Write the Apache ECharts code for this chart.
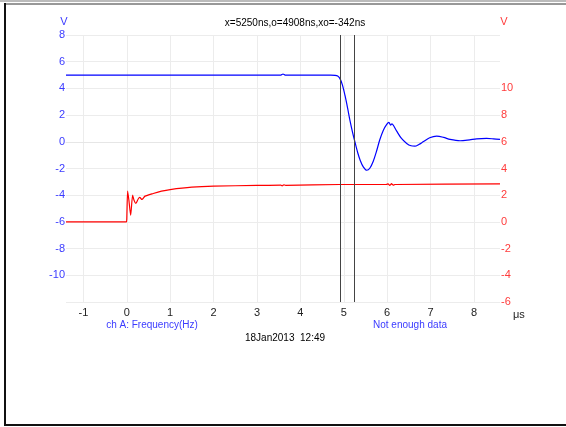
<!DOCTYPE html>
<html>
<head>
<meta charset="utf-8">
<script src="https://cdn.jsdelivr.net/npm/echarts@6/dist/echarts.min.js"></script>
<style>html,body{margin:0;padding:0;background:#fff}#c{width:566px;height:427px}</style>
</head>
<body>
<div id="c"></div>
<script>
// x ticks (μs)
const xTicks = [-1, 0, 1, 2, 3, 4, 5, 6, 7, 8];
// blue channel, left axis (V): [time μs, volts]
const blueData = [[-1.4,5.0],[3.55,5.0],[3.6,5.08],[3.65,5.0],[4.7,5.0],[4.8,4.98],[4.86,4.92],[4.91,4.75],[4.97,4.25],[5.03,3.45],[5.09,2.5],[5.14,1.65],[5.2,0.75],[5.26,-0.05],[5.32,-0.8],[5.38,-1.4],[5.45,-1.88],[5.53,-2.13],[5.6,-1.98],[5.68,-1.45],[5.76,-0.65],[5.83,0.15],[5.91,0.85],[5.99,1.3],[6.04,1.45],[6.08,1.25],[6.11,1.35],[6.15,1.2],[6.22,0.8],[6.33,0.25],[6.45,-0.12],[6.55,-0.3],[6.64,-0.33],[6.73,-0.2],[6.83,0.0],[6.98,0.3],[7.14,0.42],[7.3,0.33],[7.45,0.18],[7.68,0.08],[7.9,0.15],[8.06,0.22],[8.29,0.25],[8.45,0.22],[8.6,0.18]];
// red channel, right axis (V)
const redData = [[-1.4,0],[-0.01,0],[0.0,0.2],[0.02,2.3],[0.05,1.6],[0.09,0.5],[0.135,2.0],[0.17,1.6],[0.21,1.38],[0.26,1.7],[0.30,1.83],[0.35,1.68],[0.42,1.93],[0.61,2.13],[0.8,2.3],[1.0,2.42],[1.5,2.6],[2.0,2.68],[3.0,2.73],[3.55,2.75],[3.58,2.7],[3.62,2.78],[3.66,2.74],[4.9,2.8],[5.98,2.8],[6.02,2.85],[6.06,2.74],[6.1,2.86],[6.14,2.75],[6.18,2.8],[8.6,2.85]];
// cursor positions (μs)
const cursorX = [4.908, 5.25];
// texts
const titleText = 'x=5250ns,o=4908ns,xo=-342ns';
const chanText = 'ch A: Frequency(Hz)';
const statusText = 'Not enough data';
const dateText = '18Jan2013  12:49';
const xUnit = 'μs';
const leftUnit = 'V';
const rightUnit = 'V';

const FONT = 'Liberation Sans, Arial, sans-serif';
const BLUE_T = '#3b3bff';
const RED_T = '#ff3b3b';

const chart = echarts.init(document.getElementById('c'), null, {renderer: 'canvas'});
chart.setOption({
  animation: false,
  backgroundColor: '#fff',
  grid: {left: 66, right: 66, top: 35, bottom: 125, containLabel: false},
  title: {
    text: titleText, left: 290, top: 13, textAlign: 'center',
    textStyle: {fontFamily: FONT, fontSize: 10, fontWeight: 'normal', color: '#000'}
  },
  xAxis: {
    type: 'value', min: -1.4, max: 8.6,
    axisLine: {show: true, lineStyle: {color: '#e6e6e6', width: 1}},
    axisTick: {show: false, customValues: xTicks},
    axisLabel: {customValues: xTicks, color: '#222', fontFamily: FONT, fontSize: 11, margin: 5},
    splitLine: {show: true, lineStyle: {color: '#ececec', width: 1}}
  },
  yAxis: [{
    type: 'value', min: -12, max: 8, interval: 2, position: 'left',
    axisLine: {show: false}, axisTick: {show: false},
    axisLabel: {color: BLUE_T, fontFamily: FONT, fontSize: 11, margin: 1,
      formatter: v => (v === -12 ? '' : String(v))},
    splitLine: {show: true, lineStyle: {color: '#ececec', width: 1}}
  }, {
    type: 'value', min: -6, max: 14, interval: 2, position: 'right',
    axisLine: {show: false}, axisTick: {show: false},
    axisLabel: {color: RED_T, fontFamily: FONT, fontSize: 11, margin: 1,
      formatter: v => (v > 10 ? '' : String(v))},
    splitLine: {show: false}
  }],
  series: [{
    type: 'line', yAxisIndex: 0, data: blueData, showSymbol: false, smooth: 0.3,
    lineStyle: {color: '#0000ff', width: 1.2},
    markLine: {
      silent: true, symbol: ['none', 'none'], label: {show: false},
      lineStyle: {color: '#444', width: 1, type: 'solid'},
      data: cursorX.map(v => ({xAxis: v}))
    },
    z: 3
  }, {
    type: 'line', yAxisIndex: 1, data: redData, showSymbol: false, smooth: 0.2,
    lineStyle: {color: '#ff0000', width: 1.2}, z: 2
  }],
  graphic: [
    {type: 'text', x: 64, y: 16, style: {text: leftUnit, fill: BLUE_T, font: '11px ' + FONT, textAlign: 'center'}},
    {type: 'text', x: 504, y: 16, style: {text: rightUnit, fill: RED_T, font: '11px ' + FONT, textAlign: 'center'}},
    {type: 'text', left: 513, top: 309, style: {text: xUnit, fill: '#222', font: '11px ' + FONT}},
    {type: 'text', x: 152, y: 320, style: {text: chanText, fill: BLUE_T, font: '10px ' + FONT, textAlign: 'center'}},
    {type: 'text', x: 410, y: 320, style: {text: statusText, fill: BLUE_T, font: '10px ' + FONT, textAlign: 'center'}},
    {type: 'text', x: 285, y: 333, style: {text: dateText, fill: '#000', font: '10px ' + FONT, textAlign: 'center'}},
    {type: 'line', shape: {x1: 0, y1: 1, x2: 566, y2: 1}, style: {stroke: '#bbb', lineWidth: 2}},
    {type: 'line', shape: {x1: 4, y1: 4, x2: 566, y2: 4}, style: {stroke: '#333', lineWidth: 1}},
    {type: 'line', shape: {x1: 5, y1: 3, x2: 5, y2: 426}, style: {stroke: '#111', lineWidth: 2}},
    {type: 'line', shape: {x1: 4, y1: 425, x2: 566, y2: 425}, style: {stroke: '#111', lineWidth: 2}}
  ]
});
</script>
</body>
</html>
